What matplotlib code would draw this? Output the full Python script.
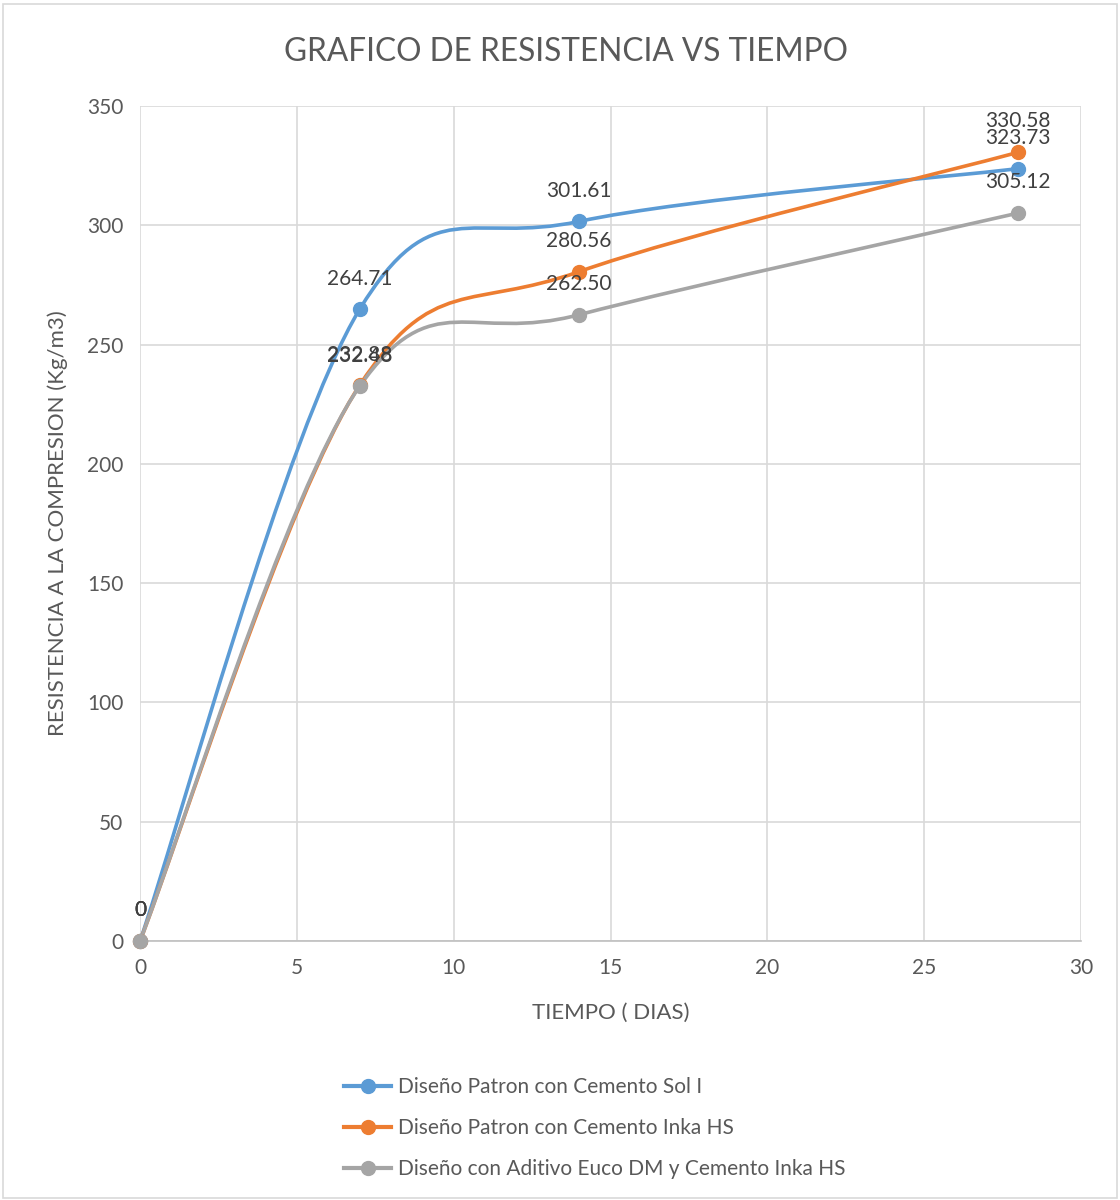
import matplotlib
matplotlib.use("Agg")
import matplotlib.pyplot as plt
from matplotlib.path import Path
from matplotlib.patches import PathPatch, Rectangle
from matplotlib.lines import Line2D
import numpy as np

plt.rcParams['font.family'] = ['Lato', 'DejaVu Sans']

# Data
dias = [0, 7, 14, 28]
sol_i = [0, 264.71, 301.61, 323.73]
inka_hs = [0, 232.88, 280.56, 330.58]
aditivo = [0, 232.48, 262.50, 305.12]

series_names = [
    "Diseño Patron con Cemento Sol I",
    "Diseño Patron con Cemento Inka HS",
    "Diseño con Aditivo Euco DM y Cemento Inka HS",
]
colors = ["#5B9BD5", "#ED7D31", "#A5A5A5"]
x_ticks = [0, 5, 10, 15, 20, 25, 30]
y_ticks = [0, 50, 100, 150, 200, 250, 300, 350]

TXT = "#595959"


def smooth_path(xs, ys):
    """Cubic Bezier path through the points (Catmull-Rom style, tension 1/6)."""
    pts = np.column_stack([xs, ys]).astype(float)
    n = len(pts)
    verts = [pts[0]]
    codes = [Path.MOVETO]
    for i in range(n - 1):
        p0 = pts[i - 1] if i > 0 else pts[i]
        p1 = pts[i]
        p2 = pts[i + 1]
        p3 = pts[i + 2] if i + 2 < n else pts[i + 1]
        c1 = p1 + (p2 - p0) / 6.0
        c2 = p2 - (p3 - p1) / 6.0
        verts += [c1, c2, p2]
        codes += [Path.CURVE4] * 3
    return Path(verts, codes)


fig = plt.figure(figsize=(11.2, 12), dpi=100)
ax = fig.add_axes([0.125, 0.2158, 0.8402, 0.6959])

ax.set_xlim(0, 30)
ax.set_ylim(0, 350)
ax.set_xticks(x_ticks)
ax.set_yticks(y_ticks)
ax.grid(True, color="#D9D9D9", linewidth=1.2)
ax.set_axisbelow(True)
for s in ["top", "right", "left"]:
    ax.spines[s].set_visible(False)
ax.spines["bottom"].set_color("#BFBFBF")
ax.spines["bottom"].set_linewidth(1.2)
ax.tick_params(length=0, labelsize=15, labelcolor=TXT, pad=12)

all_series = [sol_i, inka_hs, aditivo]
for vals, c in zip(all_series, colors):
    ax.add_patch(PathPatch(smooth_path(dias, vals), facecolor="none",
                           edgecolor=c, linewidth=2.6, zorder=3,
                           capstyle="round", joinstyle="round"))
    ax.plot(dias, vals, linestyle="none", marker="o", markersize=10,
            color=c, zorder=4, clip_on=False)
    for x, y in zip(dias, vals):
        lbl = "0" if y == 0 else f"{y:.2f}"
        ax.annotate(lbl, (x, y), xytext=(0, 15), textcoords="offset points",
                    ha="center", va="bottom", fontsize=15, color="#404040",
                    zorder=5)

ax.set_xlabel("TIEMPO ( DIAS)", fontsize=16, color=TXT, labelpad=18)
ax.set_ylabel("RESISTENCIA A LA COMPRESION (Kg/m3)", fontsize=16,
              color=TXT, labelpad=14)

fig.text(0.505, 0.957, "GRAFICO DE RESISTENCIA VS TIEMPO", ha="center",
         va="center", fontsize=22.8, color=TXT)

handles = [Line2D([0], [0], color=c, linewidth=3, marker="o", markersize=10)
           for c in colors]
fig.legend(handles, series_names, loc="upper left",
           bbox_to_anchor=(0.290, 0.118), frameon=False, fontsize=15,
           labelcolor=TXT, handlelength=2.3, handletextpad=0.3,
           labelspacing=1.0)

fig.patches.append(Rectangle((0.003, 0.002), 0.994, 0.995,
                             transform=fig.transFigure, fill=False,
                             edgecolor="#D9D9D9", linewidth=1.2))

fig.savefig("out.png", dpi=100, facecolor="white")
